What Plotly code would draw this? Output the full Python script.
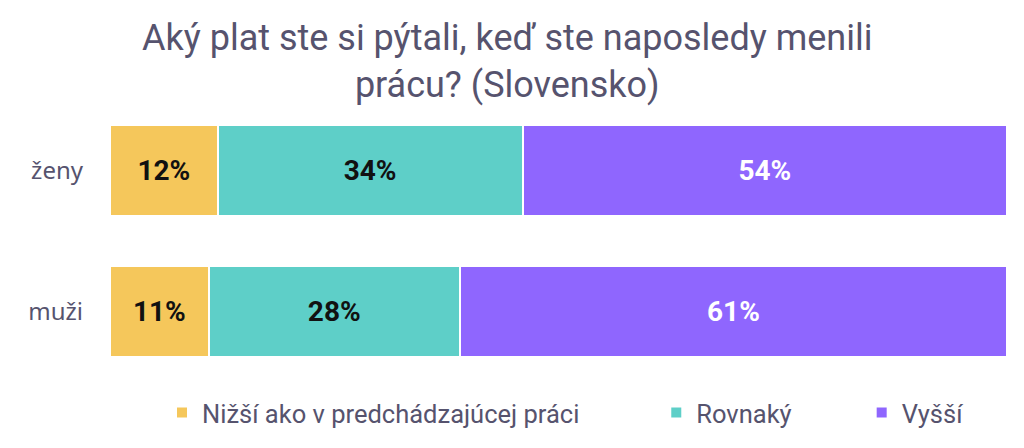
import plotly.graph_objects as go

categories = ["ženy", "muži"]
series_names = ["Nižší ako v predchádzajúcej práci", "Rovnaký", "Vyšší"]
nizsi = [12, 11]
rovnaky = [34, 28]
vyssi = [54, 61]
title_text = "Aký plat ste si pýtali, keď ste naposledy menili<br>prácu? (Slovensko)"

colors = ["#F5C75B", "#5ECFC8", "#8F66FE"]
label_colors = ["#111111", "#111111", "#FFFFFF"]
values = [nizsi, rovnaky, vyssi]
legend_ids = ["legend", "legend2", "legend3"]

narrow = "Roboto, sans-serif"
text_col = "#56536E"

fig = go.Figure()
for name, vals, col, lc, lg in zip(series_names, values, colors, label_colors, legend_ids):
    fig.add_trace(go.Bar(
        y=categories, x=vals, name=name, orientation="h",
        marker=dict(color=col, line=dict(color="white", width=2)),
        text=[f"{v}%" for v in vals], textposition="inside", insidetextanchor="middle",
        textfont=dict(color=lc, size=28, family="Roboto, sans-serif", weight="bold"),
        legend=lg, showlegend=True,
    ))

leg_common = dict(orientation="h", yanchor="middle", y=-0.11,
                  font=dict(family=narrow, size=25.5, color=text_col),
                  bgcolor="rgba(0,0,0,0)", itemwidth=30, visible=True)

fig.add_annotation(text=title_text, xref="paper", yref="paper", x=0.443, y=1.30,
                   xanchor="center", yanchor="top", showarrow=False, align="center",
                   font=dict(family=narrow, size=36, color=text_col))

fig.update_layout(
    width=1024, height=448,
    barmode="stack", bargap=0.355,
    showlegend=True,
    paper_bgcolor="white", plot_bgcolor="white",
    margin=dict(l=102, r=25, t=92, b=74, autoexpand=False),
    xaxis=dict(visible=False, range=[0, 100]),
    yaxis=dict(autorange="reversed", showgrid=False, showline=False, ticks="",
               tickfont=dict(family="Noto Sans, sans-serif", size=24, color=text_col),
               ticklabelstandoff=26),
    legend=dict(**leg_common, x=0.058, xanchor="left"),
    legend2=dict(**leg_common, x=0.609, xanchor="left"),
    legend3=dict(**leg_common, x=0.838, xanchor="left"),
    uniformtext=dict(minsize=10, mode="show"),
)

fig.write_html("out.html")
